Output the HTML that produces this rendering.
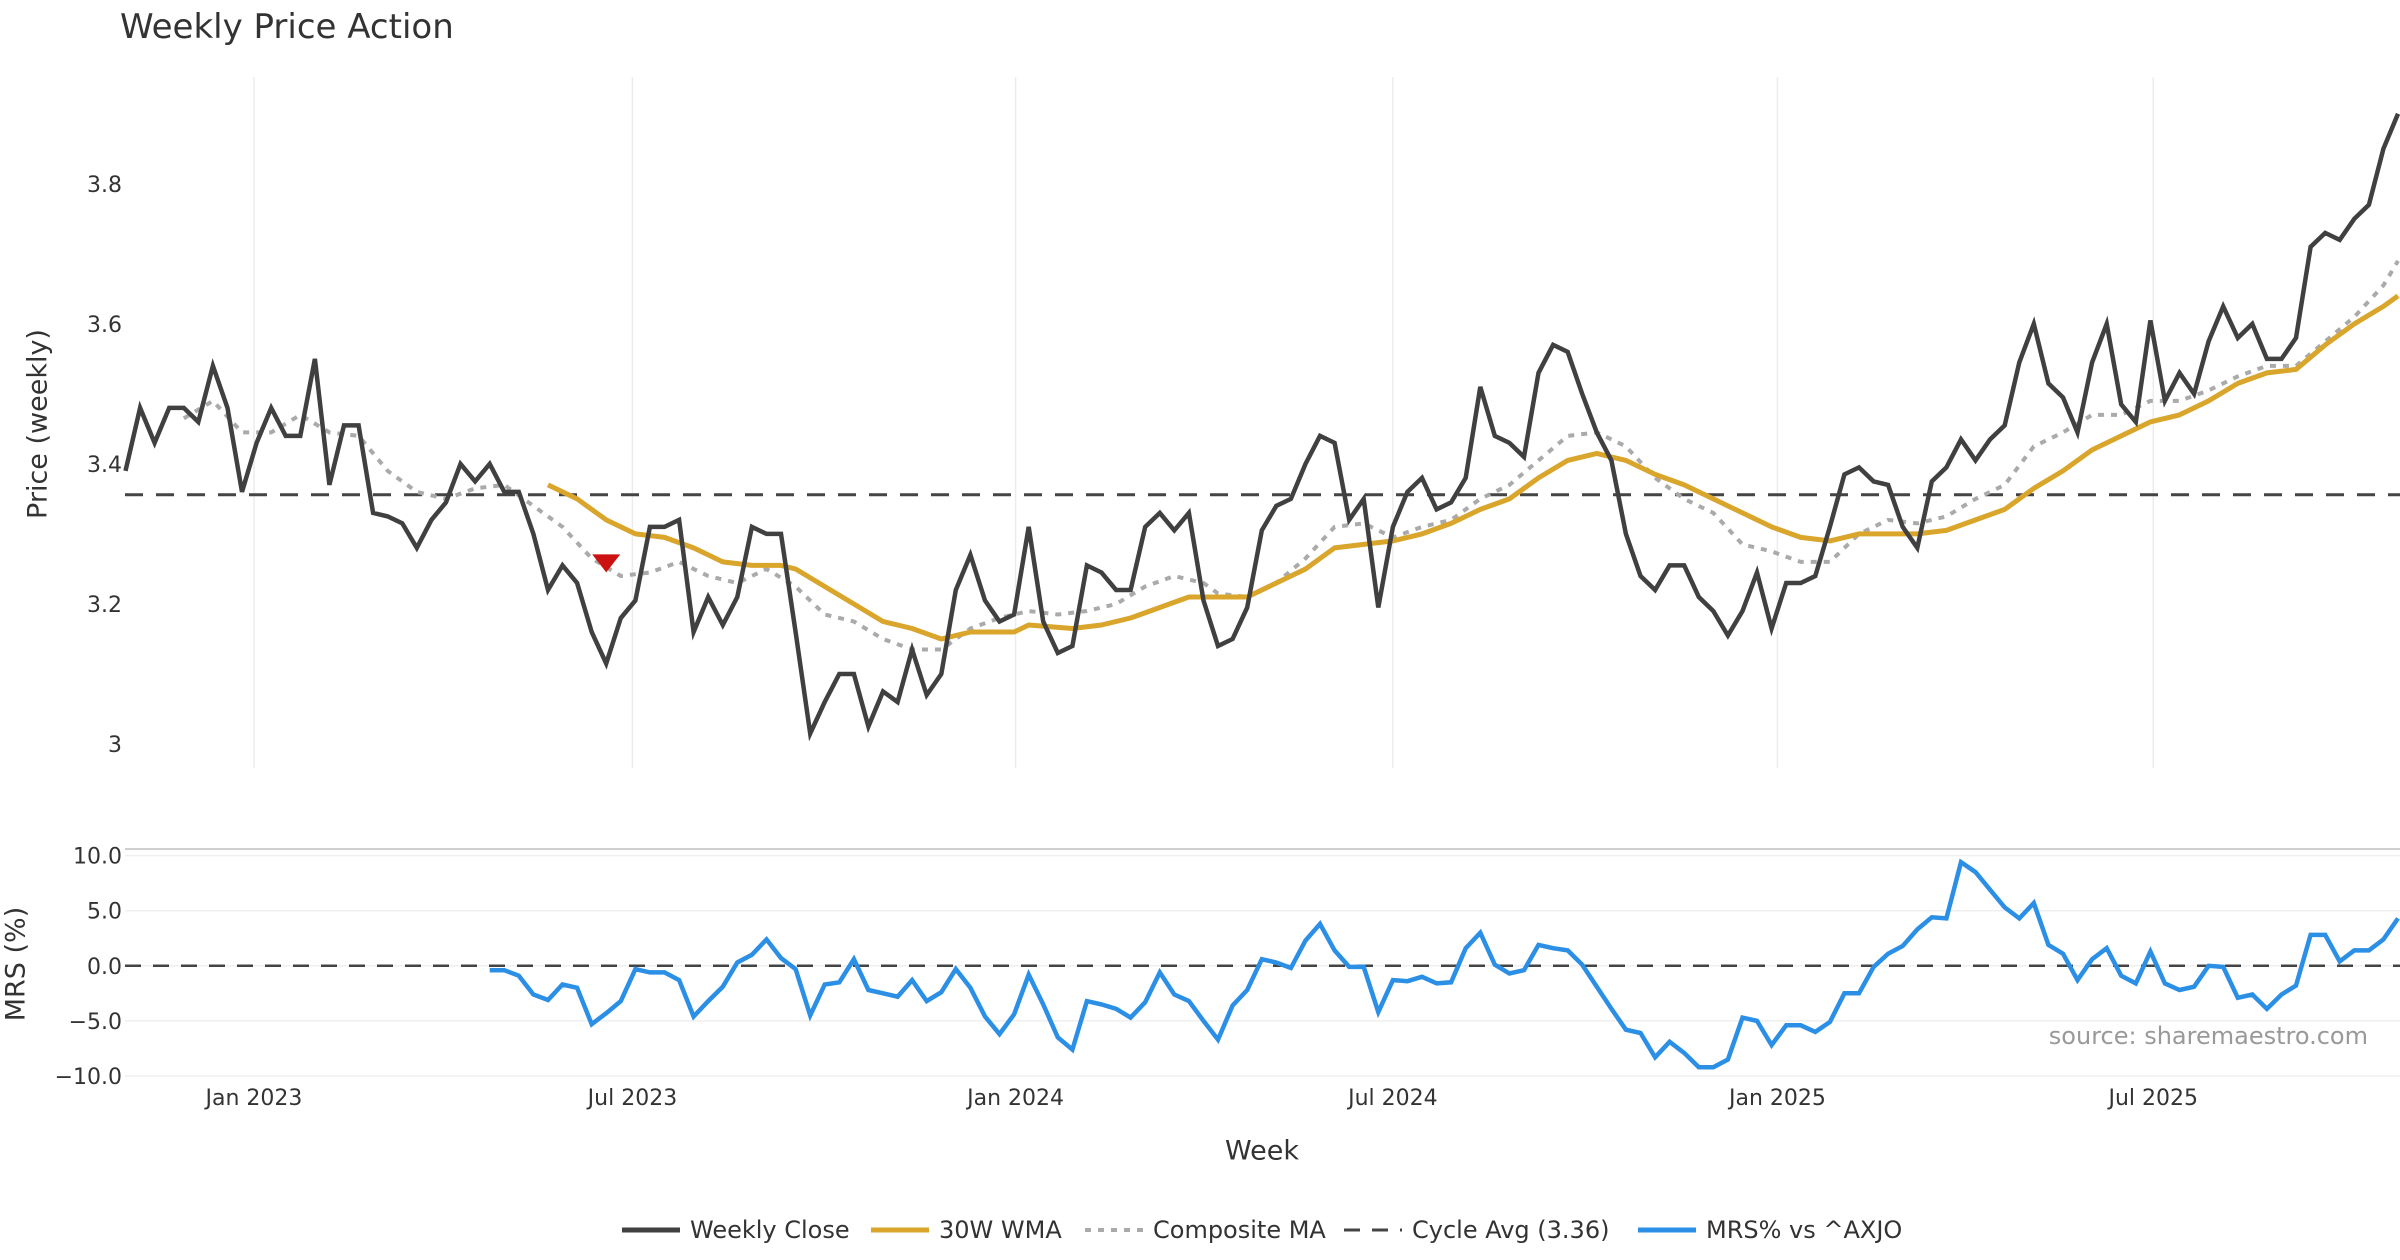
<!DOCTYPE html>
<html><head><meta charset="utf-8"><style>
html,body{margin:0;padding:0;background:#fff;}
svg{display:block;font-family:"DejaVu Sans","Liberation Sans",sans-serif;}
.le{position:absolute;top:0;white-space:nowrap;display:flex;align-items:center;gap:10px;}
</style></head><body>
<svg id="chart" width="2400" height="1260" viewBox="0 0 2400 1260">
<text x="120" y="38" font-size="34" fill="#333">Weekly Price Action</text>
<g id="grid"></g>
<g id="series"></g>
<g id="axes"></g>
</svg>
<script>
const closeVals=[3.39,3.48,3.43,3.48,3.48,3.46,3.54,3.48,3.36,3.43,3.48,3.44,3.44,3.55,3.37,3.455,3.455,3.33,3.325,3.315,3.28,3.32,3.345,3.40,3.375,3.40,3.36,3.36,3.30,3.22,3.255,3.23,3.16,3.115,3.18,3.205,3.31,3.31,3.32,3.16,3.21,3.17,3.21,3.31,3.30,3.30,3.16,3.015,3.06,3.10,3.10,3.025,3.075,3.06,3.135,3.07,3.10,3.22,3.27,3.205,3.175,3.185,3.31,3.175,3.13,3.14,3.255,3.245,3.22,3.22,3.31,3.33,3.305,3.33,3.205,3.14,3.15,3.195,3.305,3.34,3.35,3.40,3.44,3.43,3.32,3.35,3.195,3.31,3.36,3.38,3.335,3.345,3.38,3.51,3.44,3.43,3.41,3.53,3.57,3.56,3.50,3.445,3.405,3.30,3.24,3.22,3.255,3.255,3.21,3.19,3.155,3.19,3.245,3.165,3.23,3.23,3.24,3.31,3.385,3.395,3.375,3.37,3.31,3.28,3.375,3.395,3.435,3.405,3.435,3.455,3.545,3.60,3.515,3.495,3.445,3.545,3.60,3.485,3.46,3.605,3.49,3.53,3.50,3.575,3.625,3.58,3.60,3.55,3.55,3.58,3.71,3.73,3.72,3.75,3.77,3.85,3.90];
const wmaWeeks=[29,31,33,35,37,39,41,43,45,46,48,50,52,54,56,58,61,62,65,67,69,71,73,75,77,79,81,83,85,87,89,91,93,95,97,99,101,103,105,107,109,111,113,115,117,119,121,123,125,127,129,131,133,135,137,139,141,143,145,147,149,151,153,155,156];
const wmaVals=[3.37,3.35,3.32,3.30,3.295,3.28,3.26,3.255,3.255,3.25,3.225,3.20,3.175,3.165,3.15,3.16,3.16,3.17,3.165,3.17,3.18,3.195,3.21,3.21,3.21,3.23,3.25,3.28,3.285,3.29,3.30,3.315,3.335,3.35,3.38,3.405,3.415,3.405,3.385,3.37,3.35,3.33,3.31,3.295,3.29,3.30,3.30,3.30,3.305,3.32,3.335,3.365,3.39,3.42,3.44,3.46,3.47,3.49,3.515,3.53,3.535,3.57,3.60,3.625,3.64];
const compWeeks=[4,6,8,10,12,14,16,18,20,22,24,26,28,30,32,34,36,38,40,42,44,46,48,50,52,54,56,58,60,62,64,66,68,70,72,74,75,77,79,81,83,85,87,89,91,93,95,97,99,101,103,105,107,109,111,113,115,117,119,121,123,125,127,129,131,133,135,137,139,141,143,145,147,149,151,153,155,156];
const compVals=[3.465,3.49,3.445,3.445,3.47,3.445,3.44,3.39,3.36,3.35,3.365,3.37,3.34,3.31,3.265,3.24,3.245,3.26,3.24,3.23,3.25,3.225,3.185,3.175,3.15,3.135,3.135,3.165,3.18,3.19,3.185,3.19,3.20,3.225,3.24,3.23,3.215,3.21,3.23,3.265,3.31,3.315,3.295,3.31,3.32,3.35,3.37,3.405,3.44,3.445,3.425,3.38,3.35,3.33,3.285,3.275,3.26,3.26,3.30,3.32,3.315,3.325,3.35,3.37,3.425,3.445,3.47,3.47,3.49,3.49,3.505,3.525,3.54,3.54,3.575,3.61,3.655,3.69];
const mrsStart=25;
const mrsVals=[-0.4,-0.4,-0.9,-2.6,-3.1,-1.7,-2.0,-5.3,-4.3,-3.2,-0.3,-0.6,-0.6,-1.3,-4.6,-3.2,-1.9,0.3,1.0,2.4,0.7,-0.3,-4.5,-1.7,-1.5,0.6,-2.2,-2.5,-2.8,-1.3,-3.2,-2.4,-0.3,-2.0,-4.6,-6.2,-4.4,-0.8,-3.5,-6.5,-7.6,-3.2,-3.5,-3.9,-4.7,-3.3,-0.6,-2.6,-3.2,-5.0,-6.7,-3.6,-2.2,0.6,0.3,-0.2,2.3,3.8,1.4,-0.1,-0.1,-4.2,-1.3,-1.4,-1.0,-1.6,-1.5,1.6,3.0,0.1,-0.7,-0.4,1.9,1.6,1.4,0.1,-1.9,-3.9,-5.8,-6.1,-8.3,-6.9,-7.9,-9.2,-9.2,-8.5,-4.7,-5.0,-7.2,-5.4,-5.4,-6.0,-5.1,-2.5,-2.5,-0.1,1.1,1.8,3.3,4.4,4.3,9.4,8.5,6.9,5.3,4.3,5.7,1.9,1.1,-1.3,0.6,1.6,-0.9,-1.6,1.3,-1.6,-2.2,-1.9,0.0,-0.1,-2.9,-2.6,-3.9,-2.6,-1.8,2.8,2.8,0.4,1.4,1.4,2.4,4.3];
const cycleAvg=3.356;
const signalWeek=33, signalVal=3.258;
const priceTicks=[3.0,3.2,3.4,3.6,3.8];
const priceTickLabels=["3","3.2","3.4","3.6","3.8"];
const mrsTicks=[10,5,0,-5,-10];
const mrsTickLabels=["10.0","5.0","0.0","\u22125.0","\u221210.0"];
const dateTickWeeks=[8.82,34.8,61.1,87.0,113.4,139.2];
const dateTickLabels=["Jan 2023","Jul 2023","Jan 2024","Jul 2024","Jan 2025","Jul 2025"];

const NS="http://www.w3.org/2000/svg";
const X0=125.5, X1=2398;
const xs=i=>X0+i*(X1-X0)/156;
const yp=v=>744-(v-3)*700.2;
const ym=v=>965.8-v*11.02;
function mk(tag,attrs,parent){const e=document.createElementNS(NS,tag);for(const k in attrs)e.setAttribute(k,attrs[k]);parent.appendChild(e);return e;}
const grid=document.getElementById('grid'),ser=document.getElementById('series'),ax=document.getElementById('axes');

dateTickWeeks.forEach((w,i)=>{
  const l=mk('line',{x1:xs(w),x2:xs(w),y1:77,y2:768,stroke:'#ececec','stroke-width':1.5},grid);
  
  
  const t=mk('text',{x:xs(w),y:1105,'font-size':22,fill:'#333','text-anchor':'middle'},ax);
  t.textContent=dateTickLabels[i];
  
  
});
priceTicks.forEach((v,i)=>{
  const t=mk('text',{x:122,y:yp(v)+8,'font-size':22,fill:'#333','text-anchor':'end'},ax);
  t.textContent=priceTickLabels[i];
  
  
});
const border=mk('line',{x1:125,x2:2400,y1:849,y2:849,stroke:'#cfcfcf','stroke-width':2},grid);


mrsTicks.forEach((v,i)=>{
  const g=mk('line',{x1:125,x2:2400,y1:ym(v),y2:ym(v),stroke:'#efefef','stroke-width':1.5},grid);
  
  
  const t=mk('text',{x:122,y:ym(v)+8,'font-size':22,fill:'#333','text-anchor':'end'},ax);
  t.textContent=mrsTickLabels[i];
  
  
});
function path(ws,vs,yf){return vs.map((v,i)=>(i?'L':'M')+xs(ws[i]).toFixed(1)+' '+yf(v).toFixed(1)).join(' ');}
const cy=mk('line',{x1:125,x2:2400,y1:yp(cycleAvg),y2:yp(cycleAvg),stroke:'#444','stroke-width':3,'stroke-dasharray':'18 13'},ser);


const cp=mk('path',{d:path(compWeeks,compVals,yp),fill:'none',stroke:'#aaa','stroke-width':4,'stroke-dasharray':'6 7'},ser);


const wp=mk('path',{d:path(wmaWeeks,wmaVals,yp),fill:'none',stroke:'#d9a52b','stroke-width':5,'stroke-linejoin':'round'},ser);


const closeWeeks=closeVals.map((v,i)=>i);
const clp=mk('path',{d:path(closeWeeks,closeVals,yp),fill:'none',stroke:'#404040','stroke-width':4.5,'stroke-linejoin':'miter'},ser);


const sx=xs(signalWeek), sy=yp(signalVal);
const tri=mk('polygon',{points:`${sx-14},${sy-9} ${sx+14},${sy-9} ${sx},${sy+9}`,fill:'#cc1111'},ser);


const z=mk('line',{x1:125,x2:2400,y1:ym(0),y2:ym(0),stroke:'#444','stroke-width':2.5,'stroke-dasharray':'16 12'},ser);


const mrsWeeks=mrsVals.map((v,i)=>mrsStart+i);
const mp=mk('path',{d:path(mrsWeeks,mrsVals,ym),fill:'none',stroke:'#2b8fe6','stroke-width':4.5,'stroke-linejoin':'miter'},ser);


</script>
<div style="position:absolute;left:0;top:0;width:2400px;height:1260px;pointer-events:none;font-family:'DejaVu Sans','Liberation Sans',sans-serif;color:#333;">
<div style="position:absolute;left:38px;top:424px;transform:translate(-50%,-50%) rotate(-90deg);font-size:27px;white-space:nowrap;">Price (weekly)</div>
<div style="position:absolute;left:16px;top:964px;transform:translate(-50%,-50%) rotate(-90deg);font-size:27px;white-space:nowrap;">MRS (%)</div>
<div style="position:absolute;left:1262px;top:1151px;transform:translate(-50%,-50%);font-size:27px;">Week</div>
<div style="position:absolute;right:32px;top:1022px;font-size:24px;color:#999;">source: sharemaestro.com</div>
<div style="position:absolute;top:1216px;left:622px;height:26px;font-size:24px;white-space:nowrap;">
<span class="le" style="left:0;"><svg width="58" height="26"><line x1="0" y1="13" x2="58" y2="13" stroke="#404040" stroke-width="5"/></svg>Weekly Close</span>
<span class="le" style="left:249px;"><svg width="58" height="26"><line x1="0" y1="13" x2="58" y2="13" stroke="#d9a52b" stroke-width="5"/></svg>30W WMA</span>
<span class="le" style="left:463px;"><svg width="58" height="26"><line x1="0" y1="13" x2="58" y2="13" stroke="#aaa" stroke-width="4" stroke-dasharray="6 7"/></svg>Composite MA</span>
<span class="le" style="left:722px;"><svg width="58" height="26"><line x1="0" y1="13" x2="58" y2="13" stroke="#444" stroke-width="3" stroke-dasharray="16 12"/></svg>Cycle Avg (3.36)</span>
<span class="le" style="left:1016px;"><svg width="58" height="26"><line x1="0" y1="13" x2="58" y2="13" stroke="#2b8fe6" stroke-width="5"/></svg>MRS% vs ^AXJO</span>
</div>
</div>
</body></html>
